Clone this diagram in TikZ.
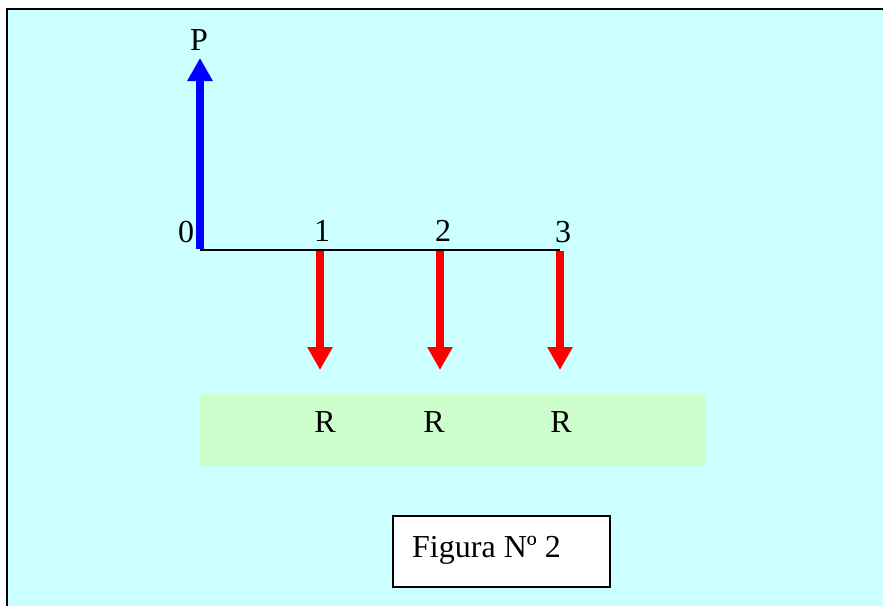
\documentclass[tikz,border=0pt]{standalone}
\usepackage{fontspec}
\setmainfont{Liberation Serif}
\usetikzlibrary{arrows.meta}
\definecolor{bgcyan}{HTML}{CCFFFF}
\definecolor{boxgreen}{HTML}{CCFFCC}
\definecolor{arrblue}{HTML}{0000FF}
\definecolor{arrred}{HTML}{FF0000}
\tikzset{
  lbl/.style={inner sep=0pt, font=\fontsize{32}{37}\selectfont},
  uparrow/.style={draw=arrblue, line width=8pt, -{Triangle[width=24pt,length=23pt]}},
  downarrow/.style={draw=arrred, line width=8pt, -{Triangle[width=24pt,length=23pt]}},
  axis/.style={draw=black, line width=2pt},
}
\begin{document}
\begin{tikzpicture}[x=1pt,y=-1pt]
\useasboundingbox (0,0) rectangle (883,605);
\fill[white] (0,0) rectangle (883,605);
\fill[bgcyan] (7,9) rectangle (890,615);
\draw[black, line width=2.5pt] (7,620) -- (7,9) -- (890,9);
% green box
\node[fill=boxgreen, minimum width=505pt, minimum height=73pt, inner sep=0pt, anchor=north west] (gbox) at (200,393) {};
% axis
\coordinate (o) at (200,250);
\coordinate (t1) at (320,250);
\coordinate (t2) at (440,250);
\coordinate (t3) at (560,250);
\coordinate (ptip) at (200,58);
\coordinate (r1tip) at (320,370);
\coordinate (r2tip) at (440,370);
\coordinate (r3tip) at (560,370);
\draw[axis] (o) -- (t3);
\draw[uparrow] ([yshift=1pt]o) -- (ptip);
\draw[downarrow] ([yshift=-1pt]t1) -- (r1tip);
\draw[downarrow] ([yshift=-1pt]t2) -- (r2tip);
\draw[downarrow] ([yshift=-1pt]t3) -- (r3tip);
% labels
\node[lbl] (lp) at (199,40) {P};
\node[lbl] (l0) at (186,232) {0};
\node[lbl] (l1) at (322,231) {1};
\node[lbl] (l2) at (443,231) {2};
\node[lbl] (l3) at (563,232) {3};
\node[lbl] (rr1) at (325,422) {R};
\node[lbl] (rr2) at (434,422) {R};
\node[lbl] (rr3) at (561,422) {R};
% figure box
\node[draw=black, line width=1.5pt, fill=white, minimum width=217pt, minimum height=71pt, inner sep=0pt, anchor=north west] (fbox) at (392,515) {};
\node[lbl, anchor=west] (ftext) at (412,550) {Figura Nº 2};
\end{tikzpicture}
\end{document}
